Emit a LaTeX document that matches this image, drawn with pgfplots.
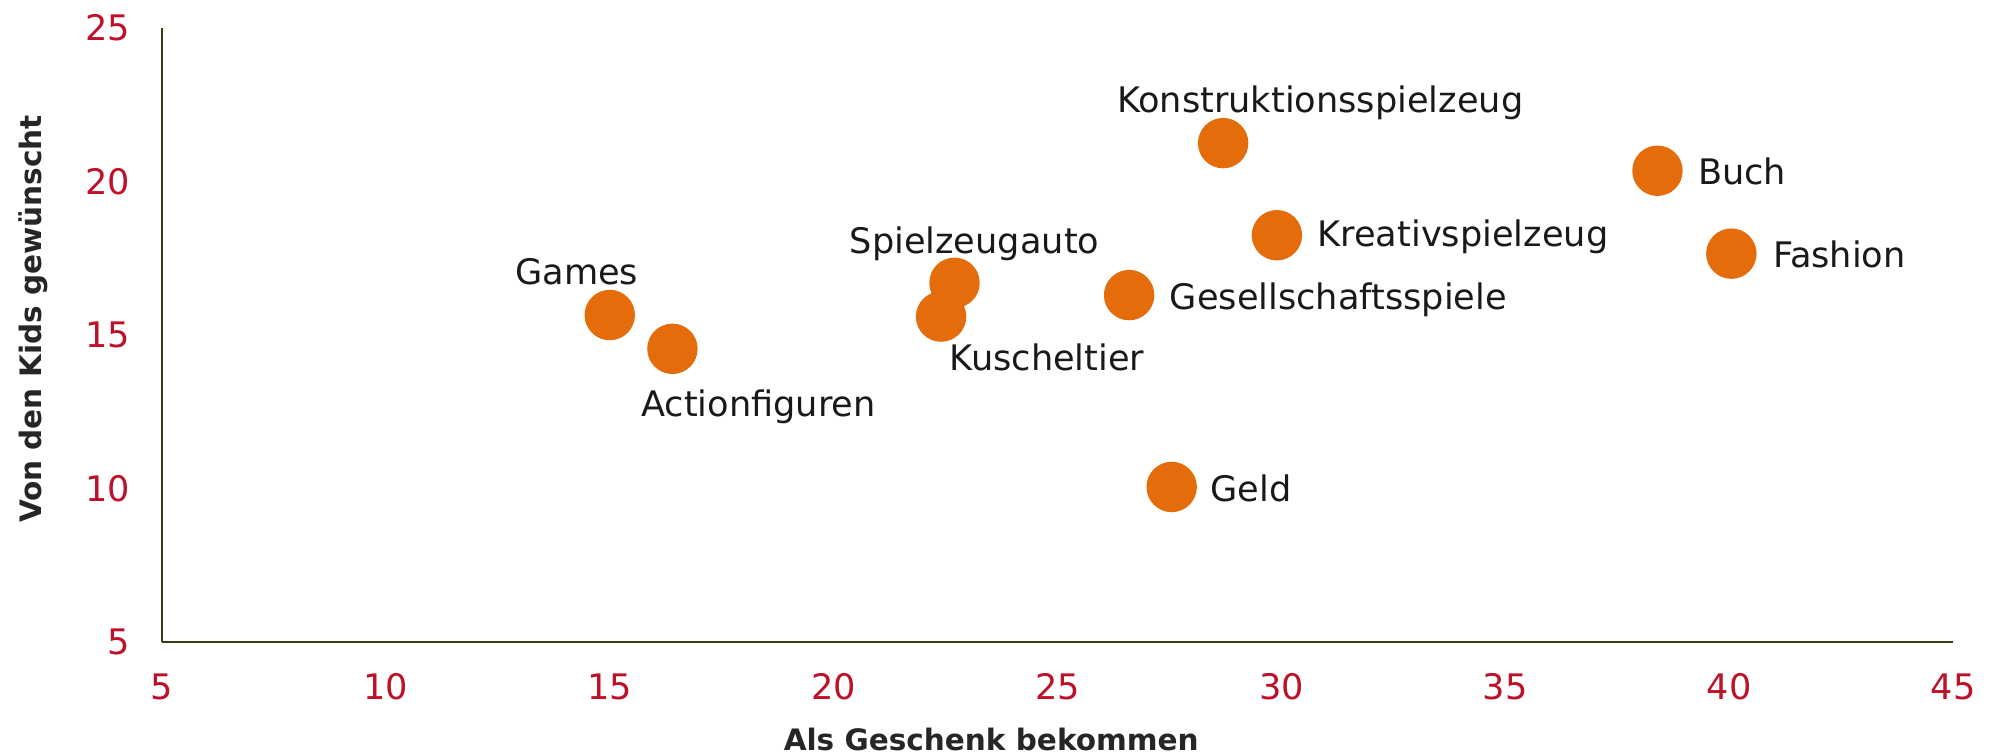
\documentclass[border=0pt]{standalone}
\usepackage{fontspec}
\setmainfont{DejaVu Sans}
\usepackage{pgfplots}
\pgfplotsset{compat=1.18}
\definecolor{tickred}{HTML}{BE1028}
\definecolor{dotorange}{HTML}{E46C0A}
\definecolor{axisline}{HTML}{3C3C14}
\pgfplotsset{
  dot/.style n args={4}{only marks, mark=*, mark size=2.45mm,
    mark options={fill=dotorange, draw=dotorange},
    nodes near coords={#1},
    every node near coord/.append style={anchor=#2, xshift=#3, yshift=#4,
      inner sep=0pt, font=\fontsize{10}{12}\selectfont, text=black!90}},
}
\begin{document}
\begin{tikzpicture}
\begin{axis}[
  at={(0,0)}, anchor=south west,
  scale only axis, width=179.1mm, height=61.4mm,
  xmin=5, xmax=45, ymin=5, ymax=25,
  xtick={5,10,...,45}, ytick={5,10,...,25},
  axis x line*=bottom, axis y line*=left,
  axis line style={-, draw=axisline, line width=0.8pt},
  major tick length=0pt,
  /pgf/number format/assume math mode=true,
  ticklabel style={font=\fontsize{10}{12}\selectfont, text=tickred, inner sep=0pt},
  yticklabel style={anchor=east, xshift=-3.1mm},
  xticklabel style={anchor=north, yshift=-3.1mm},
  xlabel={Als Geschenk bekommen},
  ylabel={Von den Kids gewünscht},
  xlabel style={font=\fontsize{8.4}{10}\selectfont\bfseries, text=black!85, at={(axis description cs:0.463,0)}, anchor=center, yshift=-9.7mm},
  ylabel style={font=\fontsize{8.4}{10}\selectfont\bfseries, text=black!85, at={(axis description cs:0,0.526)}, anchor=center, yshift=12.9mm},
  clip=false,
]
\addplot[dot={Games}{base}{-3.3mm}{3.1mm}] coordinates {(15.0,15.65)};
\addplot[dot={Actionfiguren}{base}{8.6mm}{-6.8mm}] coordinates {(16.4,14.55)};
\addplot[dot={Spielzeugauto}{base}{2.0mm}{2.9mm}] coordinates {(22.7,16.7)};
\addplot[dot={Kuscheltier}{base}{10.6mm}{-5.4mm}] coordinates {(22.4,15.6)};
\addplot[dot={Gesellschaftsspiele}{base west}{4.0mm}{-1.4mm}] coordinates {(26.6,16.3)};
\addplot[dot={Geld}{base west}{3.8mm}{-1.5mm}] coordinates {(27.55,10.05)};
\addplot[dot={Konstruktionsspielzeug}{base}{9.7mm}{3.1mm}] coordinates {(28.7,21.25)};
\addplot[dot={Kreativspielzeug}{base west}{4.0mm}{-1.15mm}] coordinates {(29.9,18.25)};
\addplot[dot={Buch}{base west}{4.0mm}{-1.4mm}] coordinates {(38.4,20.35)};
\addplot[dot={Fashion}{base west}{4.1mm}{-1.4mm}] coordinates {(40.05,17.65)};
\end{axis}
\pgfresetboundingbox
\path (-16.2mm,-11.4mm) rectangle (184.0mm,64.2mm);
\end{tikzpicture}
\end{document}
